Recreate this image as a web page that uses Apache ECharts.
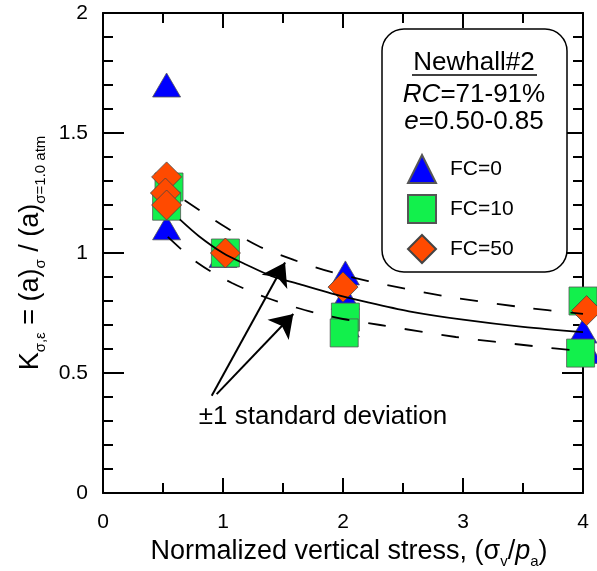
<!DOCTYPE html>
<html>
<head>
<meta charset="utf-8">
<script src="https://cdn.jsdelivr.net/npm/echarts@6/dist/echarts.min.js"></script>
<style>
html, body { margin: 0; padding: 0; background: #fff; }
#chart { width: 597px; height: 571px; }
</style>
</head>
<body>
<div id="chart"></div>
<script>
// tick values
var xTicks = [0, 1, 2, 3, 4];
var yTicks = [0, 0.5, 1, 1.5, 2];

// measured points, [stress ratio, K]
var seriesNames = ['FC=0', 'FC=10', 'FC=50'];
var fc0 = [[0.53, 1.70], [0.53, 1.105], [1.0, 0.99], [2.02, 0.917], [2.02, 0.815], [2.02, 0.70], [4.0, 0.675], [4.04, 0.59]];
var fc10 = [[0.55, 1.275], [0.53, 1.195], [1.02, 1.0], [2.02, 0.733], [2.01, 0.667], [4.0, 0.80], [3.98, 0.583]];
var fc50 = [[0.53, 1.317], [0.52, 1.25], [0.53, 1.20], [1.02, 1.0], [2.0, 0.858], [4.03, 0.76]];

// fitted trend and +/- one standard deviation
var fitMean = [[0.64, 1.14], [0.8, 1.07], [1.0, 1.0], [1.2, 0.95], [1.4, 0.905], [1.65, 0.868], [1.9, 0.832], [2.2, 0.795], [2.55, 0.757], [3.0, 0.722], [3.5, 0.692], [4.0, 0.67]];
var fitUpper = [[0.68, 1.22], [1.02, 1.108], [1.29, 1.03], [1.59, 0.971], [1.9, 0.921], [2.21, 0.883], [2.84, 0.821], [3.48, 0.775], [4.0, 0.746]];
var fitLower = [[0.54, 1.067], [0.79, 0.958], [1.075, 0.875], [1.37, 0.8125], [1.68, 0.7625], [2.0, 0.725], [2.31, 0.70], [2.94, 0.65], [3.58, 0.6125], [4.0, 0.59]];

// annotation arrows (tail, head)
var arrowUpper = [[0.906, 0.405], [1.517, 0.96]];
var arrowLower = [[0.947, 0.412], [1.586, 0.746]];

var FONT = '"Liberation Sans", Arial, sans-serif';

var nameRich = {
	m: { fontSize: 27, fontFamily: FONT, color: '#000', lineHeight: 31, verticalAlign: 'top' },
	i: { fontSize: 27, fontFamily: FONT, color: '#000', lineHeight: 31, verticalAlign: 'top', fontStyle: 'italic' },
	s: { fontSize: 15, fontFamily: FONT, color: '#000', verticalAlign: 'bottom' }
};

function frameAxis(pos, isX) {
	var ax = {
		type: 'value',
		position: pos,
		min: isX ? xTicks[0] : yTicks[0],
		max: isX ? xTicks[xTicks.length - 1] : yTicks[yTicks.length - 1],
		interval: isX ? xTicks[1] - xTicks[0] : yTicks[1] - yTicks[0],
		axisLine: { show: true, onZero: false, lineStyle: { color: '#000', width: 2 } },
		axisTick: { show: true, inside: true, length: isX ? 15 : 21, lineStyle: { color: '#000', width: 2 } },
		minorTick: { show: true, splitNumber: isX ? 2 : 5, length: 10, lineStyle: { color: '#000', width: 2 } },
		splitLine: { show: false },
		minorSplitLine: { show: false },
		axisLabel: { show: false }
	};
	return ax;
}

var xMain = frameAxis('bottom', true);
xMain.axisLabel = { show: true, margin: 19, fontSize: 21, fontFamily: FONT, color: '#000' };
xMain.name = '{m|Normalized vertical stress, (σ}{s|v}{m|/}{i|p}{s|a}{m|)}';
xMain.nameLocation = 'middle';
xMain.nameGap = 44;
xMain.nameTextStyle = { rich: nameRich, padding: [0, 0, 0, 12] };

var yMain = frameAxis('left', false);
yMain.axisLabel = { show: true, margin: 15, fontSize: 21, fontFamily: FONT, color: '#000' };
yMain.name = '{m|K}{s|σ,ε}{m| = (a)}{s|σ}{m| / (a)}{s|σ=1.0 atm}';
yMain.nameLocation = 'middle';
yMain.nameRotate = 90;
yMain.nameGap = 48;
yMain.nameTextStyle = { rich: nameRich };

var myChart = echarts.init(document.getElementById('chart'));

var option = {
	animation: false,
	backgroundColor: '#fff',
	grid: { left: 103, right: 14, top: 13, bottom: 78, containLabel: false, outerBoundsMode: 'none' },
	xAxis: [xMain, frameAxis('top', true)],
	yAxis: [yMain, frameAxis('right', false)],
	legend: {
		data: seriesNames,
		orient: 'vertical',
		left: 402,
		top: 149,
		itemWidth: 28,
		itemHeight: 28,
		itemGap: 10,
		selectedMode: false,
		z: 10,
		textStyle: { fontSize: 21, fontFamily: FONT, color: '#000', padding: [0, 0, 0, 9] }
	},
	graphic: [
		{ type: 'rect', z: 1, shape: { x: 382, y: 29, width: 185, height: 243, r: 22 }, style: { fill: '#fff', stroke: '#000', lineWidth: 1.5 } },
		{ type: 'text', z: 20, x: 474, y: 63, style: { text: 'Newhall#2', align: 'center', verticalAlign: 'middle', fontSize: 26, fontFamily: FONT, fill: '#000' } },
		{ type: 'line', z: 20, shape: { x1: 412, y1: 75, x2: 537, y2: 75 }, style: { stroke: '#000', lineWidth: 1.5 } },
		{ type: 'text', z: 20, x: 474, y: 95, style: { text: '{i|RC}{m|=71-91%}', align: 'center', verticalAlign: 'middle', rich: {
			i: { fontSize: 26, fontFamily: FONT, fontStyle: 'italic', fill: '#000' },
			m: { fontSize: 26, fontFamily: FONT, fill: '#000' } } } },
		{ type: 'text', z: 20, x: 474, y: 122, style: { text: '{i|e}{m|=0.50-0.85}', align: 'center', verticalAlign: 'middle', rich: {
			i: { fontSize: 26, fontFamily: FONT, fontStyle: 'italic', fill: '#000' },
			m: { fontSize: 26, fontFamily: FONT, fill: '#000' } } } },
		{ type: 'text', z: 20, x: 323, y: 417, style: { text: '±1 standard deviation', align: 'center', verticalAlign: 'middle', fontSize: 26, fontFamily: FONT, fill: '#000' } }
	],
	series: [
		{
			type: 'line', data: fitMean, smooth: 0.3, showSymbol: false, silent: true,
			lineStyle: { color: '#000', width: 1.8 }
		},
		{
			type: 'line', data: fitUpper, smooth: 0.3, showSymbol: false, silent: true,
			lineStyle: { color: '#000', width: 1.8, type: [18, 19] }
		},
		{
			type: 'line', data: fitLower, smooth: 0.3, showSymbol: false, silent: true,
			lineStyle: { color: '#000', width: 1.8, type: [18, 19] }
		},
		{
			type: 'lines', coordinateSystem: 'cartesian2d', silent: true,
			symbol: ['none', 'arrow'], symbolSize: [15, 22],
			lineStyle: { color: '#000', width: 2, opacity: 1 },
			data: [{ coords: arrowUpper }, { coords: arrowLower }]
		},
		{
			name: seriesNames[0], type: 'scatter', data: fc0, clip: false,
			symbol: 'triangle', symbolSize: [28, 24],
			itemStyle: { color: '#0000ff', borderColor: '#555', borderWidth: 0.8, opacity: 1 }
		},
		{
			name: seriesNames[1], type: 'scatter', data: fc10, clip: false,
			symbol: 'rect', symbolSize: 28,
			itemStyle: { color: '#12f04c', borderColor: '#555', borderWidth: 0.8, opacity: 1 }
		},
		{
			name: seriesNames[2], type: 'scatter', data: fc50, clip: false,
			symbol: 'diamond', symbolSize: 30,
			itemStyle: { color: '#ff4a00', borderColor: '#444', borderWidth: 0.8, opacity: 1 }
		}
	]
};
myChart.setOption(option);
</script>
</body>
</html>
